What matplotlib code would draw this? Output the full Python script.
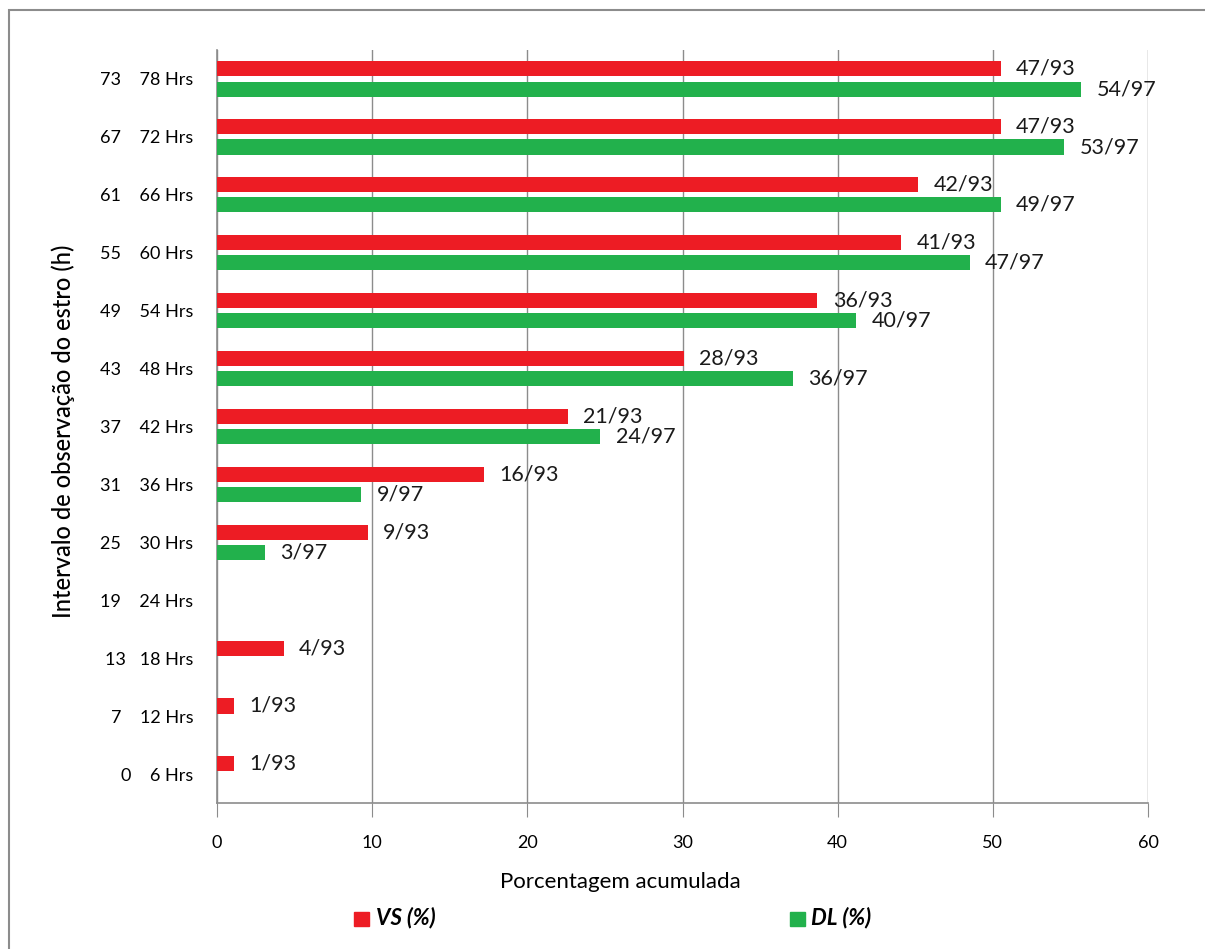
import numpy as np
import matplotlib.pyplot as plt
from matplotlib.patches import Rectangle

plt.rcParams['font.family'] = ['Lato', 'DejaVu Sans']

# categories, bottom to top
categorias = ['0    6 Hrs', '7    12 Hrs', '13   18 Hrs', '19    24 Hrs', '25    30 Hrs',
              '31    36 Hrs', '37    42 Hrs', '43    48 Hrs', '49    54 Hrs', '55    60 Hrs',
              '61    66 Hrs', '67    72 Hrs', '73    78 Hrs']

vs_pct = [1.1, 1.1, 4.3, np.nan, 9.7, 17.2, 22.6, 30.1, 38.7, 44.1, 45.2, 50.5, 50.5]
dl_pct = [np.nan, np.nan, np.nan, np.nan, 3.1, 9.3, 24.7, 37.1, 41.2, 48.5, 50.5, 54.6, 55.7]

vs_lab = ['1/93', '1/93', '4/93', '', '9/93', '16/93', '21/93', '28/93', '36/93',
          '41/93', '42/93', '47/93', '47/93']
dl_lab = ['', '', '', '', '3/97', '9/97', '24/97', '36/97', '40/97', '47/97',
          '49/97', '53/97', '54/97']

red = '#ED1C24'
green = '#22B14C'
gray = '#8C8C8C'

fig = plt.figure(figsize=(12.05, 9.49), dpi=100)
ax = fig.add_axes([217/1205, 1-803/949, (1148-217)/1205, (803-50)/949])

# outer frame (only left/top visible in original)
fig.patches.append(Rectangle((9/1205, -0.05), 1.2, 1-10/949+0.05, transform=fig.transFigure,
                             fill=False, edgecolor=gray, linewidth=1.5))

y = np.arange(len(categorias))
h = 0.26
off = 0.175
ax.barh(y + off, vs_pct, height=h, color=red, zorder=3)
ax.barh(y - off, dl_pct, height=h, color=green, zorder=3)

for i in range(len(categorias)):
    if vs_lab[i]:
        ax.annotate(vs_lab[i], (vs_pct[i], y[i] + off), xytext=(11, 0), textcoords='offset points',
                    va='center', ha='left', fontsize=15.5, color='#1a1a1a')
    if dl_lab[i]:
        ax.annotate(dl_lab[i], (dl_pct[i], y[i] - off), xytext=(11, 0), textcoords='offset points',
                    va='center', ha='left', fontsize=15.5, color='#1a1a1a')

ax.set_xlim(0, 60)
ax.set_ylim(-0.5, len(categorias) - 0.5)
ax.set_xticks(range(0, 61, 10))
ax.set_yticks(y)
ax.set_yticklabels(categorias, fontsize=13)
ax.tick_params(axis='y', length=0, pad=17)
ax.tick_params(axis='x', length=10, color=gray, pad=13, labelsize=13)
ax.grid(axis='x', color=gray, linewidth=1, zorder=0)

for s in ['top', 'right']:
    ax.spines[s].set_visible(False)
for s in ['left', 'bottom']:
    ax.spines[s].set_color(gray)
    ax.spines[s].set_linewidth(1.2)

fig.text(620/1205, 1-882/949, 'Porcentagem acumulada', ha='center', va='center', fontsize=16)
fig.text(63/1205, 1-431/949, 'Intervalo de observação do estro (h)', rotation=90,
         ha='center', va='center', fontsize=17, weight='medium')

# legend
fig.patches.append(Rectangle((354/1205, 1-926/949), 15/1205, 14/949, transform=fig.transFigure,
                             color=red))
fig.text(376/1205, 1-918/949, 'VS (%)', fontsize=16, style='italic', weight='bold', va='center')
fig.patches.append(Rectangle((790/1205, 1-926/949), 15/1205, 14/949, transform=fig.transFigure,
                             color=green))
fig.text(811/1205, 1-918/949, 'DL (%)', fontsize=16, style='italic', weight='bold', va='center')

plt.savefig('out.png', dpi=100)
